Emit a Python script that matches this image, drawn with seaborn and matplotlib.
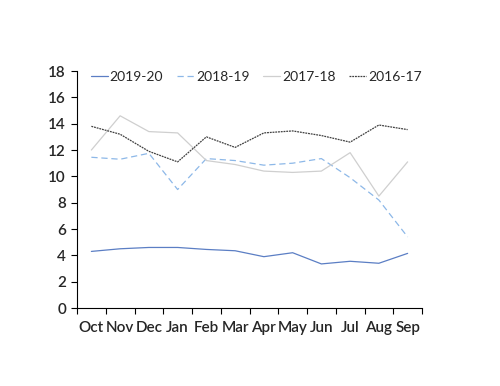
import pandas as pd
import matplotlib.pyplot as plt
import seaborn as sns

months = ["Oct", "Nov", "Dec", "Jan", "Feb", "Mar", "Apr", "May", "Jun", "Jul", "Aug", "Sep"]
y2019_20 = [4.3, 4.5, 4.6, 4.6, 4.45, 4.35, 3.9, 4.2, 3.35, 3.55, 3.4, 4.15]
y2018_19 = [11.45, 11.3, 11.75, 9.0, 11.35, 11.2, 10.85, 11.0, 11.35, 9.9, 8.2, 5.4]
y2017_18 = [12.0, 14.6, 13.4, 13.3, 11.2, 10.9, 10.4, 10.3, 10.4, 11.8, 8.5, 11.1]
y2016_17 = [13.8, 13.2, 11.9, 11.1, 13.0, 12.2, 13.3, 13.45, 13.1, 12.6, 13.9, 13.55]

series = {"2019-20": y2019_20, "2018-19": y2018_19, "2017-18": y2017_18, "2016-17": y2016_17}
styles = {
    "2019-20": dict(color="#5B7EC4", linestyle="-"),
    "2018-19": dict(color="#8DB8E8", linestyle=(0, (5, 3))),
    "2017-18": dict(color="#CFCFCF", linestyle="-"),
    "2016-17": dict(color="#404040", linestyle=(0, (1.5, 0.7))),
}

sns.set_style("white")
plt.rcParams["font.family"] = ["Lato", "DejaVu Sans"]

fig = plt.figure(figsize=(5, 3.86), dpi=100)
ax = fig.add_axes([0.154, 0.202, 0.69, 0.614])

for name, vals in series.items():
    df = pd.DataFrame({"x": range(len(months)), "y": vals})
    sns.lineplot(data=df, x="x", y="y", ax=ax, label=name, linewidth=0.9, **styles[name])

ax.set_xlim(-0.5, 11.5)
ax.set_ylim(0, 18)
ax.set_yticks(range(0, 19, 2))
ax.set_xticks(range(len(months)))
ax.set_xticklabels(months)
ax.set_xticks([i - 0.5 for i in range(13)], minor=True)
ax.tick_params(axis="x", which="major", length=0, pad=9, labelsize=11)
ax.tick_params(axis="x", which="minor", length=4, width=0.8, direction="out", color="black", bottom=True)
ax.tick_params(axis="y", length=4, width=0.8, direction="out", color="black", left=True, labelsize=11, pad=4)
for lbl in ax.get_xticklabels() + ax.get_yticklabels():
    lbl.set_fontweight("semibold")
ax.set_xlabel("")
ax.set_ylabel("")
for s in ["top", "right"]:
    ax.spines[s].set_visible(False)
for s in ["left", "bottom"]:
    ax.spines[s].set_color("black")
    ax.spines[s].set_linewidth(0.8)

ax.legend(loc="center", bbox_to_anchor=(0.52, 0.975), ncol=4, frameon=False,
          handlelength=1.2, handletextpad=0.15, columnspacing=1.0, fontsize=10)

fig.savefig("out.png", dpi=100)
